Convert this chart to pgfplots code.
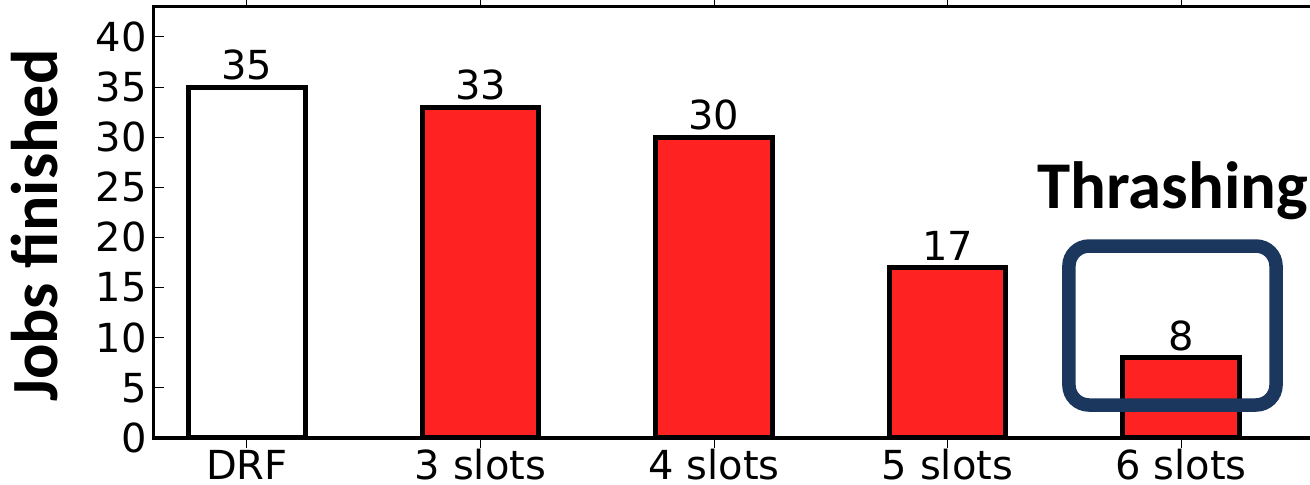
\documentclass[border=0pt]{standalone}
\usepackage{pgfplots}
\pgfplotsset{compat=1.18}
\usepackage{fontspec}
\setmainfont{DejaVu Sans}
\newfontfamily\calibri{Carlito}

\definecolor{barred}{RGB}{255,34,34}
\definecolor{boxnavy}{RGB}{27,55,94}

\begin{document}
\begin{tikzpicture}
\useasboundingbox (-76.8pt,-23.5pt) rectangle (578.2pt,219pt);
\begin{axis}[
  at={(0,0)}, anchor=south west,
  scale only axis, width=583.75pt, height=215.6pt,
  xmin=-0.4, xmax=4.6, ymin=0, ymax=43,
  xtick={0,1,2,3,4},
  xticklabels={DRF,3 slots,4 slots,5 slots,6 slots},
  ytick={0,5,...,40},
  axis line style={line width=1.65pt},
  tick style={line width=0.5pt, black},
  major tick length=5pt,
  tick align=inside,
  axis on top,
  ybar, bar width=0.5, bar shift=0pt,
  font=\fontsize{20}{24}\selectfont,
  /pgf/number format/assume math mode=true,
  xticklabel style={anchor=base, inner sep=0pt, yshift=-16pt},
  yticklabel style={anchor=east, inner sep=0pt, xshift=-3.3pt},
  ylabel={Jobs finished},
  ylabel style={font=\calibri\bfseries\fontsize{33}{36}\selectfont,
    at={(axis description cs:-0.0819,0.4925)}, anchor=base, inner sep=0pt},
  nodes near coords,
  nodes near coords style={anchor=south, inner sep=0pt, yshift=2.2pt,
    font=\fontsize{20}{24}\selectfont, black},
]
\addplot[fill=white, draw=black, line width=2.5pt] coordinates {(0,35)};
\addplot[fill=barred, draw=black, line width=2.5pt] coordinates {(1,33) (2,30) (3,17) (4,8)};

% highlight around the last bar
\draw[boxnavy, line width=6.75pt, rounded corners=10pt]
  (axis cs:3.52,3.29) rectangle (axis cs:4.407,19.14);
\node[anchor=base west, inner sep=0pt, font=\calibri\bfseries\fontsize{33.4}{36}\selectfont]
  at (axis cs:3.383,22.9) {Thrashing};
\end{axis}
\end{tikzpicture}
\end{document}
